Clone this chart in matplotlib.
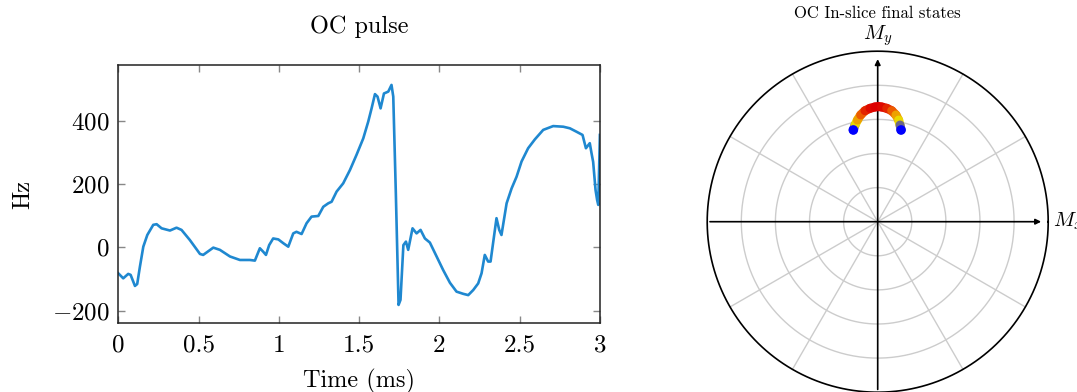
import numpy as np
import matplotlib
matplotlib.use("Agg")
import matplotlib.pyplot as plt
from matplotlib.collections import LineCollection
from matplotlib.colors import LinearSegmentedColormap

plt.rcParams['font.family'] = 'cmr10'
plt.rcParams['mathtext.fontset'] = 'cm'
plt.rcParams['axes.formatter.use_mathtext'] = True

# OC pulse (time in ms, frequency in Hz)
time_ms = [0.0, 0.031, 0.062, 0.077, 0.104, 0.118, 0.135, 0.156, 0.181, 0.218,
           0.239, 0.27, 0.322, 0.363, 0.394, 0.446, 0.509, 0.529, 0.592, 0.633,
           0.696, 0.758, 0.82, 0.851, 0.882, 0.903, 0.92, 0.94, 0.965, 0.997,
           1.028, 1.059, 1.09, 1.11, 1.142, 1.173, 1.204, 1.246, 1.277, 1.308,
           1.329, 1.36, 1.401, 1.443, 1.484, 1.526, 1.557, 1.578, 1.599, 1.615,
           1.634, 1.655, 1.682, 1.702, 1.713, 1.729, 1.746, 1.758, 1.776, 1.792,
           1.806, 1.833, 1.858, 1.883, 1.91, 1.941, 1.983, 2.024, 2.066, 2.107,
           2.149, 2.18, 2.211, 2.242, 2.263, 2.283, 2.304, 2.319, 2.336, 2.356,
           2.373, 2.387, 2.419, 2.45, 2.481, 2.512, 2.553, 2.595, 2.647, 2.709,
           2.772, 2.813, 2.855, 2.892, 2.913, 2.937, 2.948, 2.958, 2.973, 2.983,
           2.99, 3.0]
freq_hz = [-82, -98, -84, -87, -122, -116, -61, 2, 39, 71,
           73, 60, 53, 62, 55, 23, -21, -24, -1, -8,
           -29, -40, -40, -42, -3, -14, -24, 7, 28, 25,
           13, 2, 44, 49, 42, 76, 97, 99, 128, 139,
           144, 176, 202, 244, 292, 344, 397, 439, 484, 476,
           439, 486, 492, 513, 476, 171, -182, -166, 7, 18,
           -8, 60, 44, 55, 28, 15, -29, -72, -112, -140,
           -147, -151, -135, -114, -82, -24, -45, -45, 18, 92,
           55, 39, 139, 186, 223, 271, 313, 341, 371, 383,
           381, 376, 365, 355, 313, 329, 297, 270, 181, 149,
           134, 355]

# final transverse magnetisation of in-slice spins
mx = [-0.143, -0.133, -0.119, -0.100, -0.0745, -0.045, -0.016, 0.004,
      0.023, 0.053, 0.082, 0.107, 0.123, 0.131, 0.137]
my = [0.538, 0.567, 0.596, 0.626, 0.651, 0.665, 0.673, 0.675,
      0.673, 0.665, 0.651, 0.626, 0.596, 0.567, 0.538]
state_val = [0.0, 0.42, 0.52, 0.72, 0.87, 0.96, 1.0, 1.0,
             1.0, 0.96, 0.87, 0.72, 0.52, 0.42, 0.0]

grid_radii = [0.2, 0.4, 0.6, 0.8]
spoke_deg = [30, 60, 120, 150]

fig = plt.figure(figsize=(10.77, 3.92), dpi=100)

# left: pulse
ax = fig.add_axes([0.1098, 0.1753, 0.4472, 0.6589])
ax.plot(time_ms, freq_hz, color='#1f88d0', lw=1.9)
ax.set_xlim(0, 3)
ax.set_ylim(-240, 576)
ax.set_xticks([0, 0.5, 1, 1.5, 2, 2.5, 3])
ax.set_xticklabels(['0', '0.5', '1', '1.5', '2', '2.5', '3'])
ax.set_yticks([-200, 0, 200, 400])
ax.tick_params(direction='in', top=True, right=True, length=5, width=1,
               color='#888888', labelsize=18, pad=6)
ax.tick_params(axis='x', pad=8)
for s in ax.spines.values():
    s.set_linewidth(1.1)
    s.set_color('#222222')
ax.set_title('OC pulse', fontsize=17.5, pad=23)
ax.set_xlabel('Time (ms)', fontsize=17.5, labelpad=9)
ax.set_ylabel('Hz', fontsize=17.5, labelpad=13)

# right: transverse plane
R = 170.5
cx, cy = 877.7, 392 - 221.7
half = 1.2 * R
pax = fig.add_axes([(cx - half) / 1077, (cy - half) / 392, 2 * half / 1077, 2 * half / 392])
pax.set_xlim(-1.2, 1.2)
pax.set_ylim(-1.2, 1.2)
pax.set_aspect('equal')
pax.axis('off')

th = np.linspace(0, 2 * np.pi, 400)
for r in grid_radii:
    pax.plot(r * np.cos(th), r * np.sin(th), color='#cccccc', lw=1.0, zorder=1)
for d in spoke_deg:
    a = np.deg2rad(d)
    pax.plot([-np.cos(a), np.cos(a)], [-np.sin(a), np.sin(a)], color='#cccccc', lw=1.0, zorder=1)
pax.plot(np.cos(th), np.sin(th), color='black', lw=1.2, zorder=2)

pax.annotate('', xy=(0.975, 0), xytext=(-1.0, 0),
             arrowprops=dict(arrowstyle='-|>', color='black', lw=1.2, mutation_scale=8), zorder=3)
pax.annotate('', xy=(0, 0.97), xytext=(0, -1.0),
             arrowprops=dict(arrowstyle='-|>', color='black', lw=1.2, mutation_scale=8), zorder=3)
pax.text(1.03, 0.0, r'$M_x$', fontsize=15, ha='left', va='center')
pax.text(0.0, 1.02, r'$M_y$', fontsize=15, ha='center', va='bottom')
fig.text(cx / 1077, 1 - 13 / 392, 'OC In-slice final states', fontsize=12,
         ha='center', va='center')

arc_cmap = LinearSegmentedColormap.from_list('arc', [(0, '#0000ff'), (0.45, '#e8e000'),
                                                      (0.75, '#f07000'), (1.0, '#dd0000')])
pts = np.column_stack([mx, my])
segs = np.stack([pts[:-1], pts[1:]], axis=1)
seg_val = [(state_val[i] + state_val[i + 1]) / 2 for i in range(len(state_val) - 1)]
lc = LineCollection(segs, cmap=arc_cmap, linewidths=6.5, capstyle='round', zorder=4)
lc.set_array(np.array(seg_val))
lc.set_clim(0, 1)
pax.add_collection(lc)
pax.scatter([mx[0], mx[-1]], [my[0], my[-1]], c=[state_val[0], state_val[-1]], cmap=arc_cmap,
            vmin=0, vmax=1, s=48, zorder=5, edgecolors='none')

fig.savefig('out.png', dpi=100)
